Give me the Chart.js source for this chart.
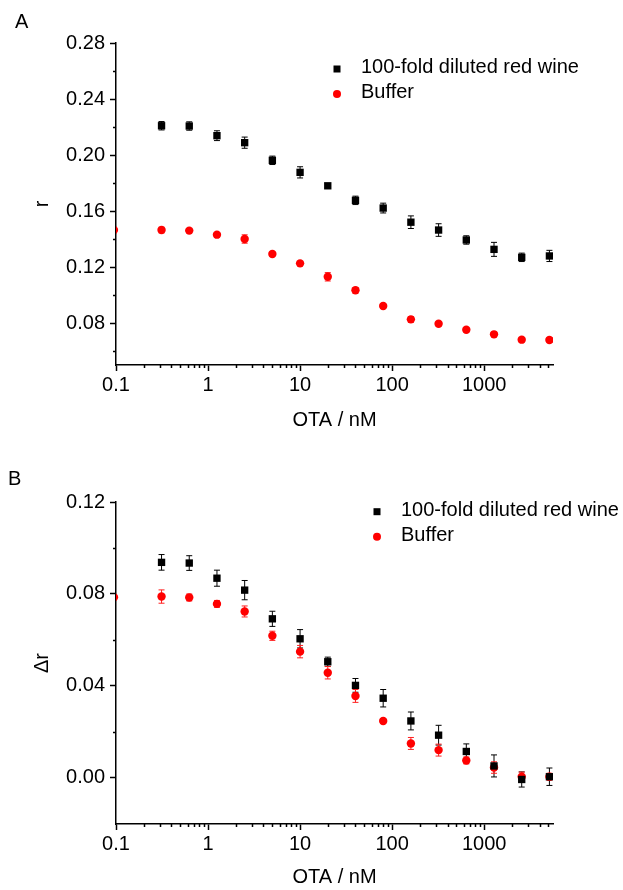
<!DOCTYPE html>
<html>
<head>
<meta charset="utf-8">
<script src="https://cdn.jsdelivr.net/npm/chart.js"></script>
<style>
html, body { margin: 0; padding: 0; background: #fff; }
canvas { display: block; }
</style>
</head>
<body>
<canvas id="chart-a" width="623" height="445"></canvas>
<canvas id="chart-b" width="623" height="445"></canvas>
<script>
// OTA concentration, nM
const conc = [0.3125, 0.625, 1.25, 2.5, 5, 10, 20, 40, 80, 160, 320, 640, 1280, 2560, 5120];
// buffer series has one extra point sitting just left of the axis (clipped)
const concBuffer = [0.095, 0.3125, 0.625, 1.25, 2.5, 5, 10, 20, 40, 80, 160, 320, 640, 1280, 2560, 5120];

// panel A: r
const wineR = [0.2209, 0.2207, 0.2138, 0.2088, 0.1962, 0.1876, 0.1780, 0.1676, 0.1621, 0.1520, 0.1464, 0.1393, 0.1326, 0.1269, 0.1279];
const wineRErr = [0.003, 0.003, 0.0035, 0.004, 0.003, 0.004, 0.0015, 0.003, 0.0035, 0.0045, 0.0045, 0.003, 0.005, 0.003, 0.004];
const bufferR = [0.1464, 0.1464, 0.146, 0.1431, 0.140, 0.1293, 0.1226, 0.113, 0.1034, 0.0921, 0.0826, 0.0795, 0.0752, 0.0719, 0.0681, 0.0679];
const bufferRErr = [0, 0.002, 0.0015, 0.0015, 0.003, 0.0015, 0.0015, 0.003, 0.002, 0.0015, 0.002, 0.0015, 0.0015, 0.0015, 0.0015, 0.0015];

// panel B: delta r
const wineDr = [0.0937, 0.0934, 0.0868, 0.0816, 0.0691, 0.0604, 0.0504, 0.0401, 0.0345, 0.0246, 0.0184, 0.0113, 0.0050, -0.0009, 0.0003];
const wineDrErr = [0.0034, 0.0032, 0.0035, 0.0042, 0.0033, 0.004, 0.002, 0.003, 0.0038, 0.0039, 0.0043, 0.0033, 0.0048, 0.0033, 0.0038];
const bufferDr = [0.0785, 0.0788, 0.0784, 0.0756, 0.0723, 0.0617, 0.0548, 0.0456, 0.0355, 0.0246, 0.0148, 0.0119, 0.0074, 0.0043, 0.0003, 0.0003];
const bufferDrErr = [0, 0.0029, 0.0015, 0.0015, 0.0024, 0.002, 0.0027, 0.0027, 0.0028, 0.001, 0.0026, 0.0026, 0.0015, 0.0025, 0.002, 0.0015];

const seriesLabels = ["100-fold diluted red wine", "Buffer"];

// tick labels
const xMajorTicks = [0.1, 1, 10, 100, 1000];
const yMajorA = [0.08, 0.12, 0.16, 0.20, 0.24, 0.28];
const yMinorA = [0.06, 0.10, 0.14, 0.18, 0.22, 0.26];
const yMajorB = [0.00, 0.04, 0.08, 0.12];
const yMinorB = [0.02, 0.06, 0.10];

Chart.defaults.font.family = 'Arial, "Liberation Sans", sans-serif';
Chart.defaults.font.size = 20;
Chart.defaults.color = '#000';

function xTickList() {
    const list = [];
    xMajorTicks.forEach(m => {
        list.push({ value: m, major: true });
        for (let k = 2; k <= 9; k++) {
            if (m * k < 5600) list.push({ value: m * k, major: false });
        }
    });
    return list;
}

function yTickList(major, minor) {
    return major.map(v => ({ value: v, major: true }))
        .concat(minor.map(v => ({ value: v, major: false })))
        .sort((a, b) => a.value - b.value);
}

const errorBars = {
    id: 'errorBars',
    beforeDatasetsDraw(chart) {
        const ctx = chart.ctx;
        const y = chart.scales.y;
        const area = chart.chartArea;
        ctx.save();
        ctx.beginPath();
        ctx.rect(area.left, area.top, area.right - area.left, area.bottom - area.top);
        ctx.clip();
        chart.data.datasets.forEach((ds, i) => {
            const meta = chart.getDatasetMeta(i);
            ctx.strokeStyle = ds.errorColor;
            ctx.lineWidth = 1;
            meta.data.forEach((pt, j) => {
                const e = ds.errors[j];
                if (!e) return;
                const v = ds.data[j].y;
                const top = y.getPixelForValue(v + e);
                const bot = y.getPixelForValue(v - e);
                ctx.beginPath();
                ctx.moveTo(pt.x, top); ctx.lineTo(pt.x, bot);
                ctx.moveTo(pt.x - 3, top); ctx.lineTo(pt.x + 3, top);
                ctx.moveTo(pt.x - 3, bot); ctx.lineTo(pt.x + 3, bot);
                ctx.stroke();
            });
        });
        ctx.restore();
    }
};

// short minor ticks + legend + panel letter
const decorations = {
    id: 'decorations',
    afterDraw(chart, args, opts) {
        const ctx = chart.ctx;
        const xs = chart.scales.x, ys = chart.scales.y;
        ctx.save();
        ctx.strokeStyle = '#000';
        ctx.lineWidth = 1.5;
        ctx.beginPath();
        xs.ticks.forEach(t => {
            if (t.major) return;
            const px = Math.round(xs.getPixelForValue(t.value)) + 0.5;
            ctx.moveTo(px, xs.top); ctx.lineTo(px, xs.top + 3);
        });
        ys.ticks.forEach(t => {
            if (t.major) return;
            const py = Math.round(ys.getPixelForValue(t.value)) + 0.5;
            ctx.moveTo(ys.right, py); ctx.lineTo(ys.right - 3, py);
        });
        ctx.stroke();

        // legend
        ctx.font = '20px Arial, "Liberation Sans", sans-serif';
        ctx.textBaseline = 'middle';
        ctx.textAlign = 'left';
        chart.data.datasets.forEach((ds, i) => {
            const mx = opts.legendX, my = opts.legendY + i * opts.legendGap;
            ctx.fillStyle = ds.backgroundColor;
            if (ds.pointStyle === 'rect') {
                ctx.fillRect(mx - 3.5, my - 3.5, 7, 7);
            } else {
                ctx.beginPath();
                ctx.arc(mx, my, 4, 0, Math.PI * 2);
                ctx.fill();
            }
            ctx.fillStyle = '#000';
            ctx.fillText(ds.label, mx + 24, my - 1.5);
        });

        ctx.textBaseline = 'alphabetic';
        ctx.fillText(opts.letter, opts.letterX, opts.letterY);
        ctx.restore();
    }
};

function makePanel(id, cfg) {
    return new Chart(document.getElementById(id), {
        type: 'scatter',
        data: {
            datasets: [{
                label: seriesLabels[0],
                data: conc.map((c, i) => ({ x: c, y: cfg.wine[i] })),
                errors: cfg.wineErr,
                errorColor: '#000',
                pointStyle: 'rect',
                pointRadius: 5.2,
                borderWidth: 0,
                backgroundColor: '#000'
            }, {
                label: seriesLabels[1],
                data: concBuffer.map((c, i) => ({ x: c, y: cfg.buffer[i] })),
                errors: cfg.bufferErr,
                errorColor: '#ff2020',
                pointStyle: 'circle',
                pointRadius: 4.2,
                borderWidth: 0,
                backgroundColor: '#ff0000'
            }]
        },
        options: {
            responsive: false,
            animation: false,
            layout: { padding: cfg.padding },
            scales: {
                x: {
                    type: 'logarithmic',
                    min: 0.1,
                    max: 5600,
                    afterBuildTicks: s => { s.ticks = xTickList(); },
                    afterFit: s => { s.height = cfg.xHeight; },
                    grid: {
                        display: true, drawOnChartArea: false, drawTicks: true,
                        tickLength: 6, tickWidth: 1.5,
                        tickColor: c => (c.tick && c.tick.major) ? '#000' : 'rgba(0,0,0,0)'
                    },
                    border: { display: true, color: '#000', width: 1.5 },
                    ticks: {
                        autoSkip: false, maxRotation: 0, padding: 2,
                        callback: (v, i, ticks) => ticks[i].major ? String(v) : ''
                    },
                    title: { display: true, text: 'OTA / nM', padding: 0, font: { size: 20 } }
                },
                y: {
                    min: cfg.yMin,
                    max: cfg.yMax,
                    afterBuildTicks: s => { s.ticks = yTickList(cfg.yMajor, cfg.yMinor); },
                    afterFit: s => { s.width = 116; },
                    grid: {
                        display: true, drawOnChartArea: false, drawTicks: true,
                        tickLength: 6, tickWidth: 1.5,
                        tickColor: c => (c.tick && c.tick.major) ? '#000' : 'rgba(0,0,0,0)'
                    },
                    border: { display: true, color: '#000', width: 1.5 },
                    ticks: {
                        autoSkip: false, padding: 5,
                        callback: (v, i, ticks) => ticks[i].major ? v.toFixed(2) : ''
                    },
                    title: { display: true, text: cfg.yTitle, padding: { top: 30 }, font: { size: 20 } }
                }
            },
            plugins: {
                legend: { display: false },
                tooltip: { enabled: false },
                decorations: cfg.deco
            }
        },
        plugins: [errorBars, decorations]
    });
}

makePanel('chart-a', {
    wine: wineR, wineErr: wineRErr, buffer: bufferR, bufferErr: bufferRErr,
    yMin: 0.05, yMax: 0.28, yMajor: yMajorA, yMinor: yMinorA, yTitle: 'r',
    padding: { top: 43, right: 70, bottom: 13, left: 0 },
    xHeight: 67,
    deco: { legendX: 337, legendY: 69, legendGap: 25, letter: 'A', letterX: 15, letterY: 28 }
});

makePanel('chart-b', {
    wine: wineDr, wineErr: wineDrErr, buffer: bufferDr, bufferErr: bufferDrErr,
    yMin: -0.0203, yMax: 0.12, yMajor: yMajorB, yMinor: yMinorB, yTitle: 'Δr',
    padding: { top: 57, right: 70, bottom: 1, left: 0 },
    xHeight: 65,
    deco: { legendX: 377, legendY: 66.7, legendGap: 25, letter: 'B', letterX: 8, letterY: 40 }
});
</script>
</body>
</html>
